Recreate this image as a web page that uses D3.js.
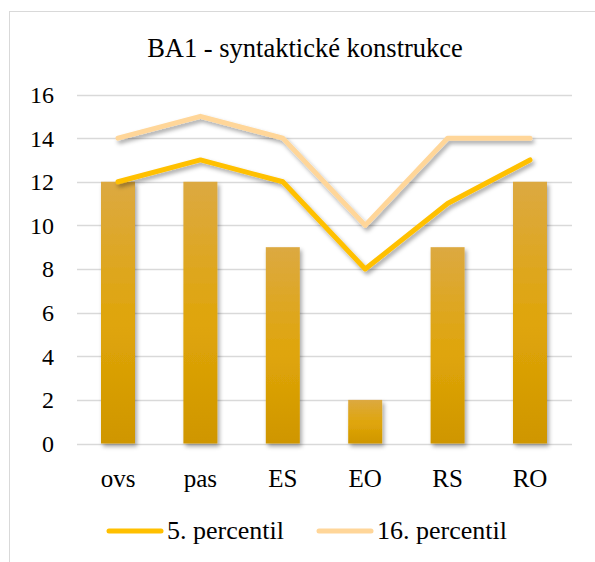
<!DOCTYPE html>
<html>
<head>
<meta charset="utf-8">
<script src="https://cdn.jsdelivr.net/npm/d3@7"></script>
</head>
<body style="margin:0">
<script>
var categories = ["ovs", "pas", "ES", "EO", "RS", "RO"];
var barValues = [12, 12, 9, 2, 9, 12];
var p5 = [12, 13, 12, 8, 11, 13];
var p16 = [14, 15, 14, 10, 14, 14];
var yTicks = [0, 2, 4, 6, 8, 10, 12, 14, 16];
var seriesNames = ["5. percentil", "16. percentil"];

var width = 595, height = 562;
var serif = "'Liberation Serif'";
var svg = d3.select("body").append("svg")
    .attr("width", width)
    .attr("height", height);

var defs = svg.append("defs");
var grad = defs.append("linearGradient")
    .attr("id", "barGrad")
    .attr("x1", 0).attr("y1", 0).attr("x2", 0).attr("y2", 1);
grad.append("stop").attr("offset", "0%").attr("stop-color", "#DCA941");
grad.append("stop").attr("offset", "55%").attr("stop-color", "#DFA509");
grad.append("stop").attr("offset", "100%").attr("stop-color", "#CF9600");

var shadow = defs.append("filter").attr("id", "shadow")
    .attr("x", "-20%").attr("y", "-20%").attr("width", "150%").attr("height", "150%");
shadow.append("feDropShadow")
    .attr("dx", 2).attr("dy", 3).attr("stdDeviation", 2)
    .attr("flood-color", "#000").attr("flood-opacity", 0.35);

// frame
svg.append("rect")
    .attr("x", 9.5).attr("y", 11.5)
    .attr("width", 600).attr("height", 600)
    .attr("fill", "none").attr("stroke", "#D9D9D9");

svg.append("text")
    .attr("x", 305).attr("y", 57)
    .attr("text-anchor", "middle")
    .style("font-family", serif)
    .style("font-size", "26.5px")
    .text("BA1 - syntaktické konstrukce");

var xc = d3.scalePoint().domain(categories).range([118, 530]);
var y = d3.scaleLinear().domain([0, 16]).range([443.5, 94.5]);

// grid
svg.append("g").selectAll("line")
    .data(yTicks)
    .enter().append("line")
    .attr("x1", 77).attr("x2", 572)
    .attr("y1", function(d) { return Math.round(y(d)) + 0.5; })
    .attr("y2", function(d) { return Math.round(y(d)) + 0.5; })
    .attr("stroke", "#D9D9D9")
    .attr("stroke-width", 1.3);

svg.append("g").selectAll("text")
    .data(yTicks)
    .enter().append("text")
    .attr("x", 54)
    .attr("y", function(d) { return y(d); })
    .attr("dy", "0.35em")
    .attr("text-anchor", "end")
    .style("font-family", serif)
    .style("font-size", "24px")
    .text(function(d) { return d; });

// bars
var bw = 34;
svg.append("g").selectAll("rect")
    .data(barValues)
    .enter().append("rect")
    .attr("x", function(d, i) { return xc(categories[i]) - bw / 2; })
    .attr("y", function(d) { return y(d); })
    .attr("width", bw)
    .attr("height", function(d) { return y(0) - y(d); })
    .attr("fill", "url(#barGrad)")
    .attr("filter", "url(#shadow)");

svg.append("g").selectAll("text")
    .data(categories)
    .enter().append("text")
    .attr("x", function(d) { return xc(d); })
    .attr("y", 487)
    .attr("text-anchor", "middle")
    .style("font-family", serif)
    .style("font-size", "25px")
    .text(function(d) { return d; });

// lines
var line = d3.line()
    .x(function(d, i) { return xc(categories[i]); })
    .y(function(d) { return y(d); });

var lineSeries = [
    { values: p16, color: "#FFD699" },
    { values: p5, color: "#FFC000" }
];
svg.append("g").selectAll("path")
    .data(lineSeries)
    .enter().append("path")
    .attr("d", function(d) { return line(d.values); })
    .attr("fill", "none")
    .attr("stroke", function(d) { return d.color; })
    .attr("stroke-width", 5)
    .attr("stroke-linecap", "round")
    .attr("stroke-linejoin", "round")
    .attr("filter", "url(#shadow)");

// legend
var legend = [
    { name: seriesNames[0], color: "#FFC000", x: 109 },
    { name: seriesNames[1], color: "#FFD699", x: 319 }
];
var lg = svg.append("g").selectAll("g")
    .data(legend)
    .enter().append("g")
    .attr("transform", function(d) { return "translate(" + d.x + ",531)"; });
lg.append("line")
    .attr("x1", 0).attr("x2", 52)
    .attr("stroke", function(d) { return d.color; })
    .attr("stroke-width", 5)
    .attr("stroke-linecap", "round");
lg.append("text")
    .attr("x", 58)
    .attr("y", 8)
    .style("font-family", serif)
    .style("font-size", "26px")
    .text(function(d) { return d.name; });
</script>
</body>
</html>
